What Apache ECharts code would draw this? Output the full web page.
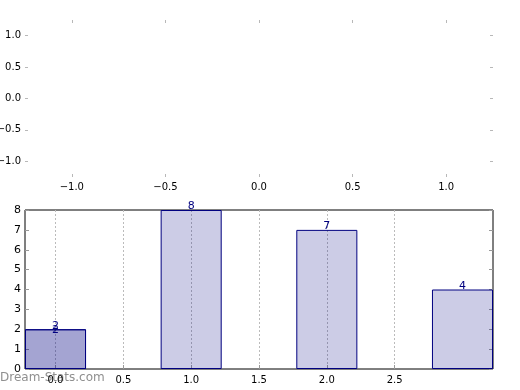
<!DOCTYPE html>
<html>
<head>
<meta charset="utf-8">
<script src="https://cdn.jsdelivr.net/npm/echarts@6/dist/echarts.min.js"></script>
<style>html,body{margin:0;padding:0;background:#fff}#c{width:520px;height:390px}</style>
</head>
<body>
<div id="c"></div>
<script>
// top (empty) axes ticks
var topXTicks = [-1.0, -0.5, 0.0, 0.5, 1.0];
var topYTicks = [-1.0, -0.5, 0.0, 0.5, 1.0];
// bar chart
var barX = [0, 1, 2, 3];
var barValues = [2, 8, 7, 4];
var extraX = [0];
var extraValues = [2];
var bottomXTicks = [0.0, 0.5, 1.0, 1.5, 2.0, 2.5];

var FONT = 'DejaVu Sans';
function fmt(v) {
  var s = Number(v).toFixed(1);
  return s.replace('-', '\u2212');
}
var chart = echarts.init(document.getElementById('c'), null, {renderer: 'canvas'});
var tickGray = '#b8b8b8';
var option = {
  animation: false,
  grid: [
    {left: 25, right: 27, top: 20, height: 157, show: false, containLabel: false, outerBoundsMode: 'none'},
    {left: 25, right: 27, top: 210, height: 159, show: true, borderColor: '#000', borderWidth: 1, backgroundColor: 'transparent', containLabel: false, outerBoundsMode: 'none'}
  ],
  xAxis: [
    {gridIndex: 0, type: 'value', position: 'bottom', min: -1.25, max: 1.25,
      axisLine: {show: false, onZero: false}, splitLine: {show: false},
      axisTick: {show: true, inside: true, length: 3, customValues: topXTicks, lineStyle: {color: tickGray, width: 1}},
      axisLabel: {show: true, margin: 5, customValues: topXTicks, formatter: fmt, fontFamily: FONT, fontSize: 10, color: '#000'}},
    {gridIndex: 0, type: 'value', position: 'top', min: -1.25, max: 1.25,
      axisLine: {show: false, onZero: false}, splitLine: {show: false},
      axisTick: {show: true, inside: true, length: 3, customValues: topXTicks, lineStyle: {color: tickGray, width: 1}},
      axisLabel: {show: false}},
    {gridIndex: 1, type: 'value', position: 'bottom', min: -0.225, max: 3.225,
      axisLine: {show: false, onZero: false},
      splitLine: {show: true, lineStyle: {color: '#bbbbbb', type: [2, 2], width: 1}},
      axisTick: {show: true, inside: true, length: 4, customValues: bottomXTicks, lineStyle: {color: '#999', width: 1}},
      axisLabel: {show: true, margin: 6, customValues: bottomXTicks, formatter: fmt, fontFamily: FONT, fontSize: 10, color: '#000'}}
  ],
  yAxis: [
    {gridIndex: 0, type: 'value', position: 'left', min: -1.25, max: 1.25,
      axisLine: {show: false, onZero: false}, splitLine: {show: false},
      axisTick: {show: true, inside: true, length: 3, customValues: topYTicks, lineStyle: {color: tickGray, width: 1}},
      axisLabel: {show: true, margin: 4, customValues: topYTicks, formatter: fmt, fontFamily: FONT, fontSize: 10, color: '#000'}},
    {gridIndex: 0, type: 'value', position: 'right', min: -1.25, max: 1.25,
      axisLine: {show: false, onZero: false}, splitLine: {show: false},
      axisTick: {show: true, inside: true, length: 3, customValues: topYTicks, lineStyle: {color: tickGray, width: 1}},
      axisLabel: {show: false}},
    {gridIndex: 1, type: 'value', position: 'left', min: 0, max: 8, interval: 1,
      axisLine: {show: false, onZero: false}, splitLine: {show: false},
      axisTick: {show: true, inside: true, length: 4, lineStyle: {color: '#999', width: 1}},
      axisLabel: {show: true, margin: 4, fontFamily: FONT, fontSize: 11, color: '#000'}},
    {gridIndex: 1, type: 'value', position: 'right', min: 0, max: 8, interval: 1,
      axisLine: {show: false, onZero: false}, splitLine: {show: false},
      axisTick: {show: true, inside: true, length: 4, lineStyle: {color: '#999', width: 1}},
      axisLabel: {show: false}}
  ],
  graphic: [
    {type: 'text', left: 0, top: 372, z: -1, style: {text: 'Dream-Stats.com', fill: '#8f8f8f', font: '12px "DejaVu Sans"'}}
  ],
  series: [
    {type: 'scatter', xAxisIndex: 0, yAxisIndex: 0, data: []},
    {type: 'bar', xAxisIndex: 2, yAxisIndex: 2, barWidth: '45%', barGap: '-100%',
      data: barX.map(function (x, i) { return [x, barValues[i]]; }),
      itemStyle: {color: 'rgba(0,0,128,0.2)', borderColor: '#000080', borderWidth: 1},
      label: {show: true, position: 'top', distance: -2, formatter: function (p) { return p.value[1]; }, fontFamily: FONT, fontSize: 11, color: '#000080'}},
    {type: 'bar', xAxisIndex: 2, yAxisIndex: 2, barWidth: '45%', barGap: '-100%',
      data: extraX.map(function (x, i) { return [x, extraValues[i]]; }),
      itemStyle: {color: 'rgba(0,0,128,0.2)', borderColor: '#000080', borderWidth: 1},
      label: {show: true, position: 'top', distance: -2, offset: [0, 4], formatter: function (p) { return p.value[1]; }, fontFamily: FONT, fontSize: 11, color: '#000080'}}
  ]
};
chart.setOption(option);
</script>
</body>
</html>
